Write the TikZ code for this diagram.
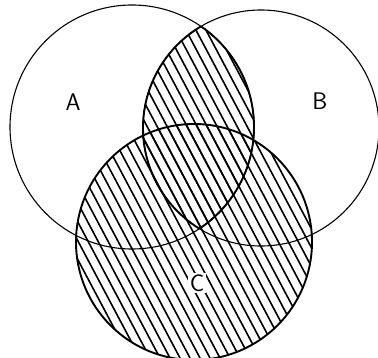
\documentclass[tikz,border=0pt]{standalone}
\usepackage{tikz}
\tikzset{
  setline/.style={line width=1.1pt},
  boldline/.style={line width=1.9pt},
  hatchline/.style={line width=1.6pt},
  setlabel/.style={font=\sffamily\fontsize{24}{26}\selectfont, inner sep=1.5pt}
}

\begin{document}
\begin{tikzpicture}[x=1pt,y=-1pt]
\useasboundingbox (0,0) rectangle (378,358);
\coordinate (ca) at (132,127);
\coordinate (cb) at (261,128);
\coordinate (cc) at (194,242);
% hatching of C
\begin{scope}
  \clip (cc) circle (118pt);
  \foreach \x in {-230,-220,...,400} \draw[hatchline] (\x,0) -- (\x+190,358);
\end{scope}
% hatching of A and B
\begin{scope}
  \clip (ca) circle (122pt);
  \clip (cb) circle (118pt);
  \foreach \x in {-230,-220,...,400} \draw[hatchline] (\x,0) -- (\x+190,358);
\end{scope}
% outlines
\draw[setline] (ca) circle (122pt);
\draw[setline] (cb) circle (118pt);
\draw[boldline] (cc) circle (118pt);
\begin{scope}
  \clip (ca) circle (122pt);
  \draw[boldline] (cb) circle (118pt);
\end{scope}
\begin{scope}
  \clip (cb) circle (118pt);
  \draw[boldline] (ca) circle (122pt);
\end{scope}
% labels
\node[setlabel] (la) at (73,102) {A};
\node[setlabel] (lb) at (320,101) {B};
\node[setlabel, fill=white] (lc) at (197,283) {C};
\end{tikzpicture}
\end{document}
